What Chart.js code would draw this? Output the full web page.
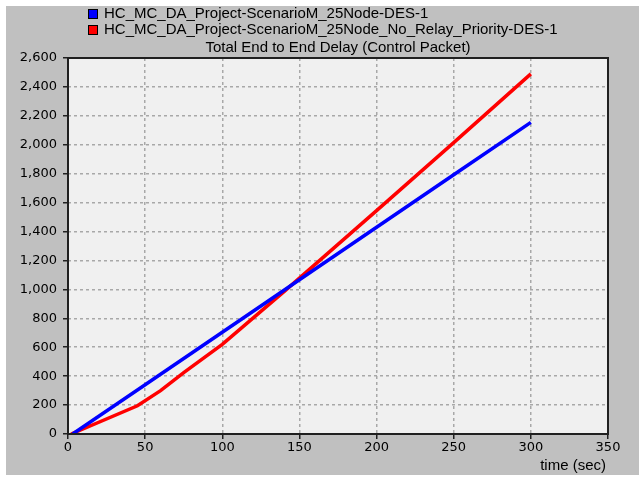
<!DOCTYPE html>
<html>
<head>
<meta charset="utf-8">
<script src="https://cdn.jsdelivr.net/npm/chart.js@4"></script>
<style>
  html, body { margin: 0; padding: 0; background: #fff; }
  #wrap { width: 641px; height: 481px; }
</style>
</head>
<body>
<div id="wrap"><canvas id="delayChart" width="641" height="481"></canvas></div>
<script>
// data
const seriesNames = [
  'HC_MC_DA_Project-ScenarioM_25Node-DES-1',
  'HC_MC_DA_Project-ScenarioM_25Node_No_Relay_Priority-DES-1'
];
const blueTime = [3, 50, 100, 150, 200, 250, 300];
const blueDelay = [0, 341, 704, 1067, 1430, 1793, 2155];
const redTime = [2, 45, 60, 75, 100, 140, 200, 250, 300];
const redDelay = [0, 195, 300, 425, 620, 985, 1545, 2015, 2490];
const xTicks = [0, 50, 100, 150, 200, 250, 300, 350];
const yTicks = [0, 200, 400, 600, 800, 1000, 1200, 1400, 1600, 1800, 2000, 2200, 2400, 2600];
const chartTitle = 'Total End to End Delay (Control Packet)';
const xTitle = 'time (sec)';

const toPoints = (xs, ys) => xs.map((x, i) => ({ x: x, y: ys[i] }));

// frame, backgrounds, legend and titles
const decor = {
  id: 'decor',
  beforeDraw(chart) {
    const { ctx, chartArea: a } = chart;
    ctx.save();
    ctx.fillStyle = '#ffffff';
    ctx.fillRect(0, 0, chart.width, chart.height);
    ctx.fillStyle = '#c0c0c0';
    ctx.fillRect(6, 6, 633, 469);
    ctx.fillStyle = '#f0f0f0';
    ctx.fillRect(a.left, a.top, a.right - a.left, a.bottom - a.top);
    ctx.restore();
  },
  afterDraw(chart) {
    const { ctx, chartArea: a } = chart;
    ctx.save();
    ctx.strokeStyle = '#202020';
    ctx.lineWidth = 2;
    ctx.strokeRect(a.left, a.top, a.right - a.left, a.bottom - a.top);

    // legend
    ctx.font = '15px "Liberation Sans", Arial, sans-serif';
    ctx.textBaseline = 'middle';
    ctx.textAlign = 'left';
    chart.data.datasets.forEach((ds, i) => {
      const y = 14 + i * 16;
      ctx.fillStyle = ds.borderColor;
      ctx.fillRect(88, y - 5, 10, 10);
      ctx.lineWidth = 1;
      ctx.strokeStyle = '#000';
      ctx.strokeRect(88.5, y - 4.5, 9, 9);
      ctx.fillStyle = '#000';
      ctx.fillText(ds.label, 104, y);
    });

    // title
    ctx.textAlign = 'center';
    ctx.fillText(chartTitle, (a.left + a.right) / 2, 48);

    // x axis title
    ctx.textAlign = 'right';
    ctx.fillText(xTitle, 606, 466);
    ctx.restore();
  }
};

const ctx = document.getElementById('delayChart').getContext('2d');
new Chart(ctx, {
  type: 'line',
  data: {
    datasets: [{
      label: seriesNames[0],
      data: toPoints(blueTime, blueDelay),
      borderColor: '#0000ff',
      borderWidth: 3.5,
      pointRadius: 0,
      tension: 0
    }, {
      label: seriesNames[1],
      data: toPoints(redTime, redDelay),
      borderColor: '#ff0000',
      borderWidth: 3.5,
      pointRadius: 0,
      tension: 0
    }]
  },
  options: {
    responsive: false,
    animation: false,
    layout: { padding: { left: 0, top: 58, right: 33, bottom: 0 } },
    plugins: {
      legend: { display: false },
      title: { display: false },
      tooltip: { enabled: false }
    },
    scales: {
      x: {
        type: 'linear',
        min: 0,
        max: 350,
        afterFit(scale) { scale.height = 47; },
        afterBuildTicks(scale) { scale.ticks = xTicks.map(v => ({ value: v })); },
        ticks: {
          color: '#000',
          padding: 1,
          maxRotation: 0,
          font: { family: 'DejaVu Sans', size: 13 }
        },
        grid: { color: '#a8a8a8', lineWidth: 1.5, tickColor: '#202020', tickLength: 5, tickWidth: 1.5 },
        border: { display: false, dash: [3, 3] }
      },
      y: {
        min: 0,
        max: 2600,
        afterFit(scale) { scale.width = 68; },
        afterBuildTicks(scale) { scale.ticks = yTicks.map(v => ({ value: v })); },
        ticks: {
          color: '#000',
          padding: 6,
          font: { family: 'DejaVu Sans', size: 13 },
          callback: v => v.toLocaleString('en-US')
        },
        grid: { color: '#a8a8a8', lineWidth: 1.5, tickColor: '#202020', tickLength: 5, tickWidth: 1.5 },
        border: { display: false, dash: [3, 3] }
      }
    }
  },
  plugins: [decor]
});
</script>
</body>
</html>
